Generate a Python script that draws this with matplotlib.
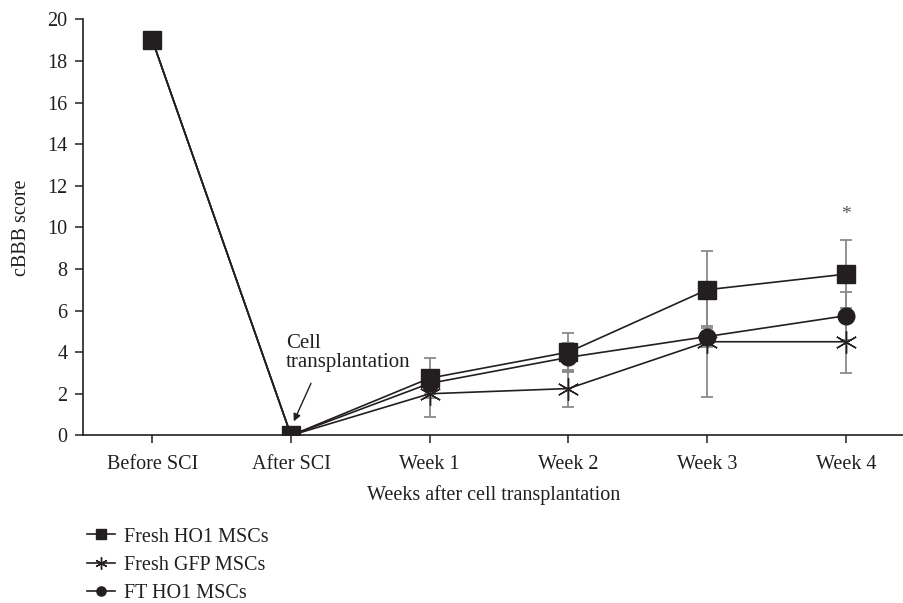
import matplotlib.pyplot as plt
import numpy as np

plt.rcParams['font.family'] = ['Liberation Serif', 'DejaVu Serif']

categories = ["Before SCI", "After SCI", "Week 1", "Week 2", "Week 3", "Week 4"]

ho1_fresh = [19, 0, 2.75, 4.0, 7.0, 7.75]
ho1_fresh_err = [0, 0, 0.95, 0.9, 1.85, 1.65]

gfp_fresh = [19, 0, 2.0, 2.25, 4.5, 4.5]
gfp_fresh_err = [0, 0, 1.1, 0.9, 2.65, 1.5]

ho1_ft = [19, 0, 2.5, 3.75, 4.75, 5.75]
ho1_ft_err = [0, 0, 0.5, 0.7, 0.5, 1.15]

ink = '#231f20'
errc = '#8a8a8a'
fs = 14.5

x = np.arange(len(categories))

fig = plt.figure(figsize=(9.04, 6.03), dpi=100)
ax = fig.add_axes([0.0918, 0.278, 0.9082, 0.69])

# grey error bars under the lines
for vals, errs in [(ho1_ft, ho1_ft_err), (gfp_fresh, gfp_fresh_err), (ho1_fresh, ho1_fresh_err)]:
    ax.errorbar(x[2:], vals[2:], yerr=errs[2:], fmt='none', ecolor=errc,
                elinewidth=1.3, capsize=4, capthick=1.3, zorder=1)

# before/after SCI points are hidden under the squares anyway
l_ft, = ax.plot(x, ho1_ft, color=ink, lw=1.2, marker='o', ms=12, mfc=ink, mec=ink,
                markevery=[2, 3, 4, 5], zorder=3)
l_gfp, = ax.plot(x, gfp_fresh, color=ink, lw=1.2, marker=(6, 2, 0), ms=16, mew=1.0,
                 mec=ink, markevery=[2, 3, 4, 5], zorder=4)
l_ho1, = ax.plot(x, ho1_fresh, color=ink, lw=1.2, marker='s', ms=13, mfc=ink, mec=ink, zorder=5)

ax.set_xlim(-0.5, 5.42)
ax.set_ylim(0, 20)
ax.set_yticks(np.arange(0, 21, 2))
ax.set_xticks(x)
ax.set_xticklabels(categories)

for s in ['top', 'right']:
    ax.spines[s].set_visible(False)
for s in ['left', 'bottom']:
    ax.spines[s].set_color(ink)
    ax.spines[s].set_linewidth(1.2)
ax.tick_params(axis='both', direction='out', length=6, width=1.1, color=ink,
               labelsize=fs, labelcolor=ink)
ax.tick_params(axis='x', pad=8)
ax.tick_params(axis='y', pad=5)

ax.set_ylabel("cBBB score", fontsize=fs, color=ink, labelpad=12)
ax.set_xlabel("Weeks after cell transplantation", fontsize=fs, color=ink, labelpad=8)

ax.text(5, 10.6, "*", ha='center', va='center', fontsize=14, color='#555555')

ax.text(0.964, 3.27, "Cell\ntransplantation", ha='left', va='baseline',
        fontsize=15, color=ink, linespacing=1.05)
ax.annotate("", xy=(1.02, 0.67), xytext=(1.144, 2.5),
            arrowprops=dict(arrowstyle='-|>', color=ink, lw=1.0, mutation_scale=11,
                            shrinkA=0, shrinkB=0))

fig.legend([l_ho1, l_gfp, l_ft], ["Fresh HO1 MSCs", "Fresh GFP MSCs", "FT HO1 MSCs"],
           loc='upper left', bbox_to_anchor=(0.085, 0.142), frameon=False,
           fontsize=fs, markerscale=0.55, handlelength=1.4, handletextpad=0.45,
           labelspacing=0.45, borderpad=0, labelcolor=ink)

fig.savefig("out.png", dpi=100)
